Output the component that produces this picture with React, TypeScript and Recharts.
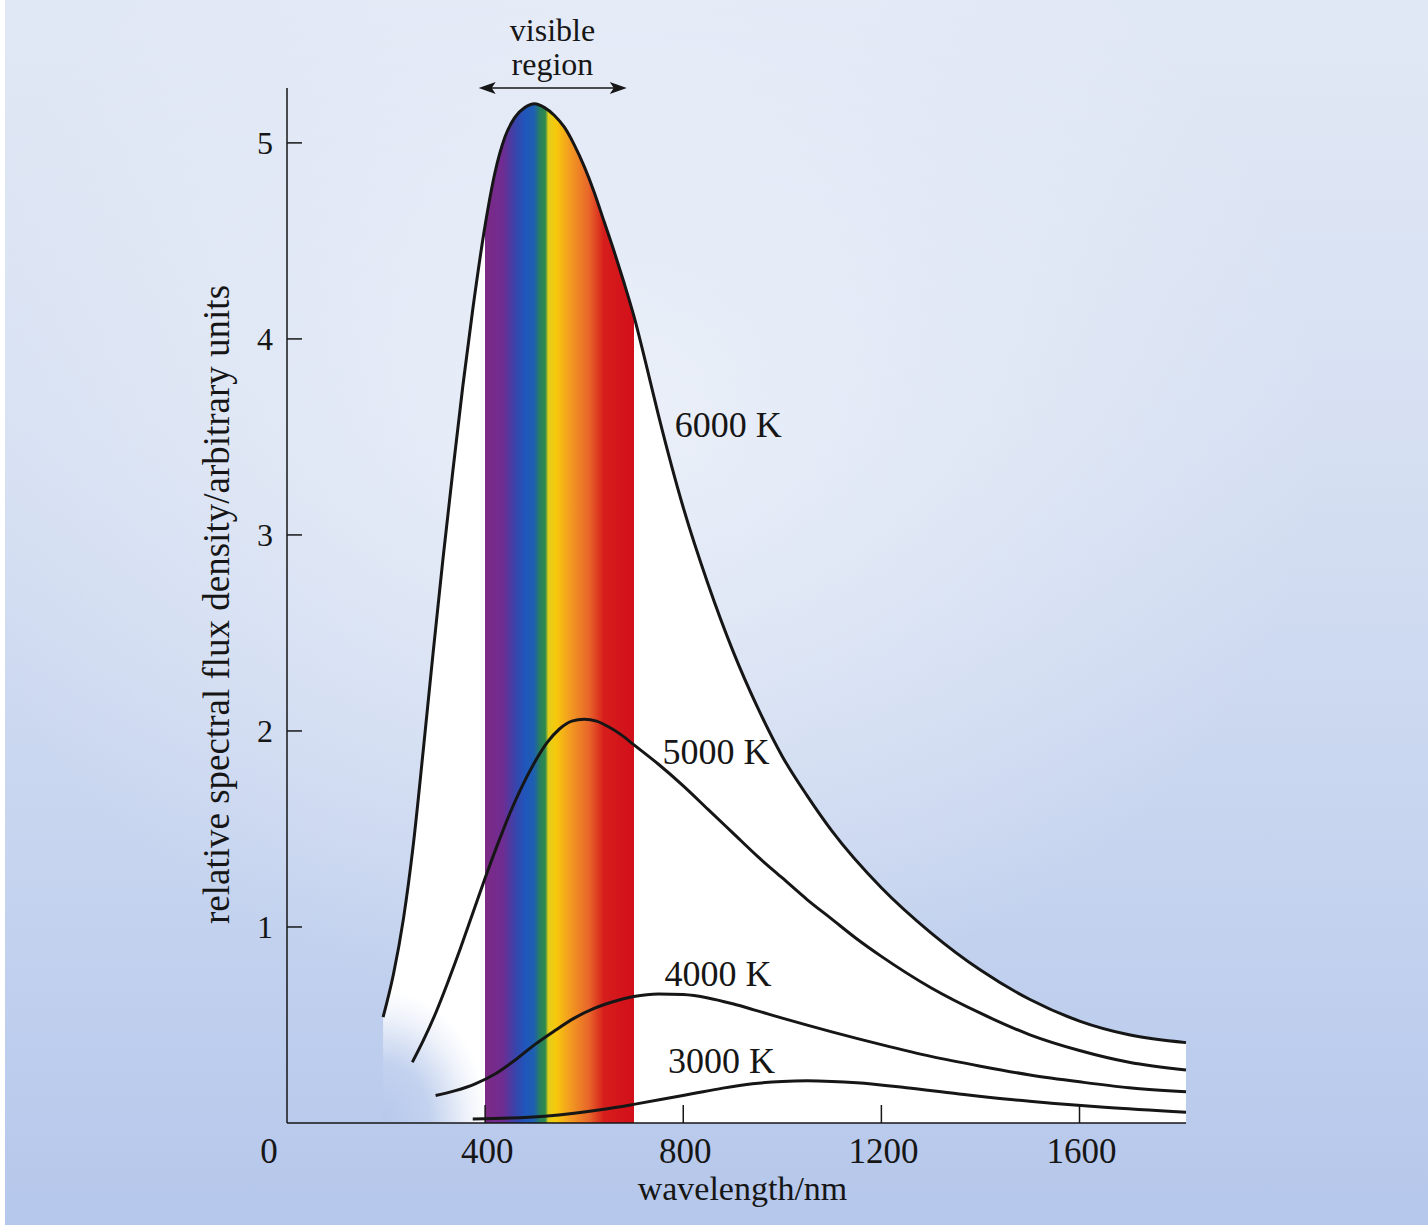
import { ComposedChart, Area, Line, XAxis, YAxis, ReferenceDot, ReferenceLine } from "recharts"

// wavelengths (nm) and relative flux
const nm6000 = [194, 215, 235, 255, 275, 295, 315, 335, 355, 375, 400, 420, 440, 460, 480, 500, 520, 540, 560, 580, 600, 620, 640, 660, 680, 700, 725, 750, 800, 850, 900, 950, 1000, 1050, 1100, 1200, 1300, 1400, 1500, 1600, 1700, 1815]
const flux6000 = [0.54, 0.76, 1.04, 1.42, 1.9, 2.4, 2.88, 3.33, 3.76, 4.15, 4.58, 4.85, 5.03, 5.13, 5.18, 5.2, 5.18, 5.14, 5.08, 4.99, 4.88, 4.75, 4.6, 4.45, 4.29, 4.12, 3.87, 3.61, 3.14, 2.75, 2.41, 2.12, 1.87, 1.67, 1.49, 1.2, 0.97, 0.78, 0.63, 0.52, 0.45, 0.41]

const nm5000 = [253, 275, 300, 325, 350, 375, 400, 425, 450, 475, 500, 525, 550, 575, 600, 625, 650, 675, 700, 750, 800, 850, 900, 950, 1000, 1050, 1100, 1150, 1200, 1300, 1400, 1500, 1600, 1700, 1815]
const flux5000 = [0.31, 0.42, 0.56, 0.72, 0.89, 1.07, 1.25, 1.42, 1.58, 1.72, 1.84, 1.94, 2.01, 2.05, 2.06, 2.05, 2.02, 1.98, 1.93, 1.83, 1.72, 1.6, 1.48, 1.36, 1.25, 1.14, 1.04, 0.94, 0.85, 0.69, 0.56, 0.45, 0.37, 0.31, 0.27]

const nm4000 = [300, 340, 380, 420, 460, 500, 540, 580, 620, 660, 700, 750, 800, 850, 900, 950, 1000, 1100, 1200, 1300, 1400, 1500, 1600, 1700, 1815]
const flux4000 = [0.14, 0.165, 0.2, 0.25, 0.32, 0.4, 0.47, 0.535, 0.585, 0.62, 0.645, 0.658, 0.655, 0.638, 0.608, 0.572, 0.535, 0.465, 0.4, 0.34, 0.29, 0.245, 0.21, 0.18, 0.16]

const nm3000 = [375, 450, 520, 580, 640, 700, 760, 820, 880, 940, 1000, 1050, 1100, 1150, 1250, 1350, 1450, 1550, 1650, 1815]
const flux3000 = [0.02, 0.025, 0.035, 0.05, 0.07, 0.095, 0.122, 0.15, 0.178, 0.2, 0.212, 0.215, 0.212, 0.205, 0.18, 0.15, 0.122, 0.1, 0.08, 0.055]

const xTicks = [0, 400, 800, 1200, 1600]
const yTicks = [1, 2, 3, 4, 5]
const visibleFrom = 400
const visibleTo = 700

// spectrum colours across the visible band (0 = 400 nm, 1 = 700 nm)
const spectrum: [number, string][] = [
  [0, "#7d2a85"],
  [0.12, "#6f2c92"],
  [0.2, "#3a43aa"],
  [0.27, "#1f56bb"],
  [0.33, "#1e60b0"],
  [0.37, "#27805c"],
  [0.405, "#2f8a4c"],
  [0.425, "#e2cf1a"],
  [0.48, "#f7c80c"],
  [0.56, "#f3a020"],
  [0.7, "#e8652a"],
  [0.8, "#d61d1c"],
  [1, "#d20f1a"],
]

const toPoints = (xs: number[], ys: number[]) => xs.map((x, i) => ({ x, v: ys[i] }))

const s6000 = toPoints(nm6000, flux6000)
const s5000 = toPoints(nm5000, flux5000)
const s4000 = toPoints(nm4000, flux4000)
const s3000 = toPoints(nm3000, flux3000)

// position of a spectrum stop inside the 6000 K area's bounding box
const nmMin = nm6000[0]
const nmMax = nm6000[nm6000.length - 1]
const boxOffset = (f: number) => (visibleFrom + f * (visibleTo - visibleFrom) - nmMin) / (nmMax - nmMin)

const FONT = "'Liberation Serif', 'Times New Roman', serif"
const INK = "#161616"

const XTick = (props: any) => {
  const { x, y, payload } = props
  const v = payload.value
  return (
    <g>
      {v !== 0 && <line x1={x} x2={x} y1={y} y2={y - 18} stroke={INK} strokeWidth={1.5} />}
      <text x={v === 0 ? x - 18 : x + 2} y={y + 40} textAnchor="middle" fontSize={35} fontFamily={FONT} fill={INK}>
        {v}
      </text>
    </g>
  )
}

const YTick = (props: any) => {
  const { x, y, payload } = props
  return (
    <g>
      <line x1={x} x2={x + 15} y1={y} y2={y} stroke={INK} strokeWidth={1.5} />
      <text x={x - 14} y={y + 11} textAnchor="end" fontSize={32} fontFamily={FONT} fill={INK}>
        {payload.value}
      </text>
    </g>
  )
}

const curveLabel = (text: string) => (p: any) => (
  <text x={p.cx} y={p.cy} fontSize={36} fontFamily={FONT} fill={INK}>
    {text}
  </text>
)

const arrow = (p: any) => {
  const { x1, y1, x2, y2 } = p
  return (
    <g>
      <line x1={x1 + 10} y1={y1} x2={x2 - 10} y2={y2} stroke={INK} strokeWidth={1.5} />
      <path d={`M${x1},${y1} l17,-6 l-4,6 l4,6 z`} fill={INK} />
      <path d={`M${x2},${y2} l-17,-6 l4,6 l-4,6 z`} fill={INK} />
    </g>
  )
}

export default function App() {
  return (
    <div
      style={{
        position: "absolute",
        left: 0,
        top: 0,
        width: 1428,
        height: 1225,
        background: "#ffffff",
      }}
    >
      <div
        style={{
          position: "absolute",
          left: 5,
          top: 0,
          width: 1423,
          height: 1225,
          background:
            "radial-gradient(ellipse 700px 600px at 620px 420px, rgba(238,242,250,0.85), rgba(238,242,250,0) 100%), linear-gradient(to bottom, #e1e8f5 0%, #d6e0f2 35%, #c6d4ef 70%, #b5c7eb 100%)",
        }}
      />
      <div style={{ position: "absolute", left: 0, top: 0 }}>
        <ComposedChart width={1428} height={1225} margin={{ top: 88, right: 242, bottom: 0, left: 0 }}>
          <defs>
            <linearGradient id="rainbow" x1="0" y1="0" x2="1" y2="0">
              <stop offset={boxOffset(0)} stopColor="#ffffff" stopOpacity={0} />
              {spectrum.map(([f, c]) => (
                <stop key={f} offset={boxOffset(f)} stopColor={c} stopOpacity={1} />
              ))}
              <stop offset={boxOffset(1)} stopColor="#ffffff" stopOpacity={0} />
            </linearGradient>
            <radialGradient id="glow" cx="0" cy="1" r="0.13" fx="0" fy="1">
              <stop offset="0" stopColor="#b7c8eb" />
              <stop offset="0.45" stopColor="#c3d2ef" />
              <stop offset="0.8" stopColor="#eef2fa" />
              <stop offset="1" stopColor="#ffffff" />
            </radialGradient>
          </defs>
          <XAxis
            dataKey="x"
            type="number"
            domain={[0, 1815]}
            ticks={xTicks}
            height={102}
            tickSize={0}
            tickMargin={0}
            tickLine={false}
            tick={<XTick />}
            axisLine={{ stroke: INK, strokeWidth: 1.5 }}
            label={{
              content: (p: any) => (
                <text
                  x={p.viewBox.x + p.viewBox.width / 2 + 6}
                  y={p.viewBox.y + 77}
                  textAnchor="middle"
                  fontSize={34}
                  fontFamily={FONT}
                  fill={INK}
                >
                  wavelength/nm
                </text>
              ),
            }}
          />
          <YAxis
            type="number"
            domain={[0, 5.28]}
            ticks={yTicks}
            width={287}
            tickSize={0}
            tickMargin={0}
            tickLine={false}
            tick={<YTick />}
            axisLine={{ stroke: INK, strokeWidth: 1.5 }}
            label={{
              content: (p: any) => {
                const cx = p.viewBox.x + p.viewBox.width - 58
                const cy = p.viewBox.y + p.viewBox.height / 2 - 1
                return (
                  <text
                    x={cx}
                    y={cy}
                    transform={`rotate(-90 ${cx} ${cy})`}
                    textAnchor="middle"
                    fontSize={37}
                    fontFamily={FONT}
                    fill={INK}
                  >
                    relative spectral flux density/arbitrary units
                  </text>
                )
              },
            }}
          />
          <Area
            data={s6000}
            dataKey="v"
            type="monotone"
            stroke="none"
            fill="url(#glow)"
            fillOpacity={1}
            isAnimationActive={false}
          />
          <Area
            data={s6000}
            dataKey="v"
            type="monotone"
            stroke="none"
            fill="url(#rainbow)"
            fillOpacity={1}
            isAnimationActive={false}
          />
          <Line data={s6000} dataKey="v" type="monotone" stroke={INK} strokeWidth={3} dot={false} isAnimationActive={false} />
          <Line data={s5000} dataKey="v" type="monotone" stroke={INK} strokeWidth={3} dot={false} isAnimationActive={false} />
          <Line data={s4000} dataKey="v" type="monotone" stroke={INK} strokeWidth={3} dot={false} isAnimationActive={false} />
          <Line data={s3000} dataKey="v" type="monotone" stroke={INK} strokeWidth={3} dot={false} isAnimationActive={false} />
          <ReferenceLine
            segment={[
              { x: 387, y: 5.28 },
              { x: 686, y: 5.28 },
            ]}
            ifOverflow="visible"
            shape={arrow}
          />
          <ReferenceDot
            x={536}
            y={5.28}
            r={0}
            ifOverflow="visible"
            shape={(p: any) => (
              <g>
                <text x={p.cx} y={p.cy - 47} textAnchor="middle" fontSize={32} fontFamily={FONT} fill={INK}>
                  visible
                </text>
                <text x={p.cx} y={p.cy - 13} textAnchor="middle" fontSize={32} fontFamily={FONT} fill={INK}>
                  region
                </text>
              </g>
            )}
          />
          <ReferenceDot x={783} y={3.5} r={0} shape={curveLabel("6000 K")} />
          <ReferenceDot x={758} y={1.83} r={0} shape={curveLabel("5000 K")} />
          <ReferenceDot x={762} y={0.7} r={0} shape={curveLabel("4000 K")} />
          <ReferenceDot x={769} y={0.255} r={0} shape={curveLabel("3000 K")} />
        </ComposedChart>
      </div>
    </div>
  )
}
